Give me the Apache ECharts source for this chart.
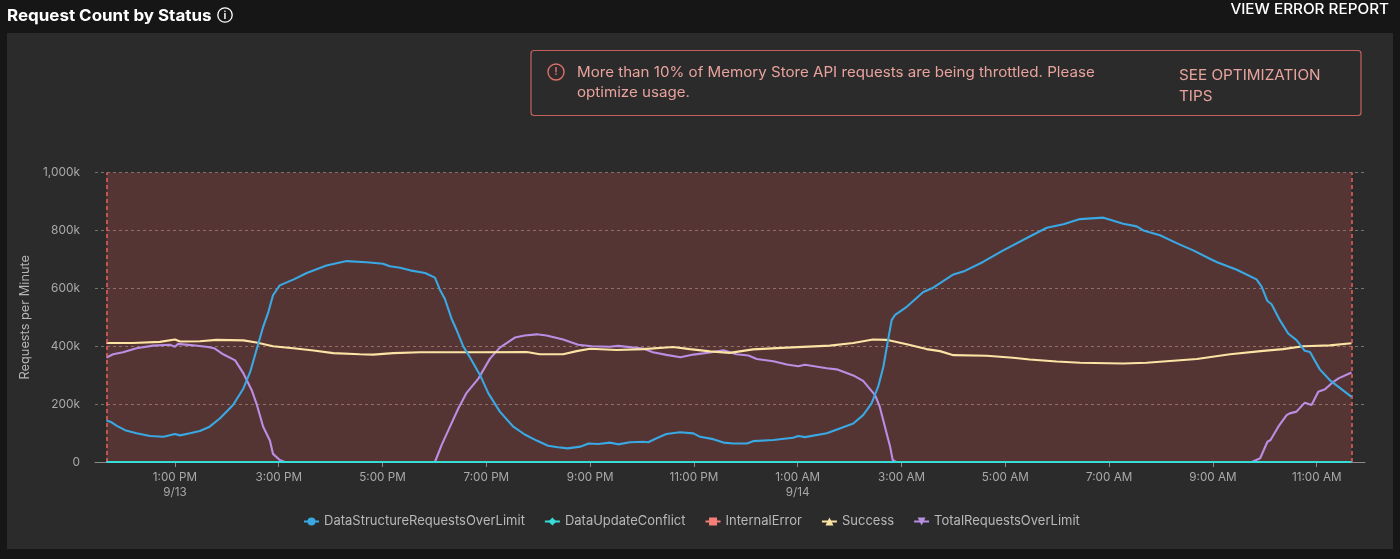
<!DOCTYPE html>
<html><head><meta charset="utf-8">
<style>html,body{margin:0;padding:0;background:#161616}#c{width:1400px;height:559px}</style>
<script src="https://cdn.jsdelivr.net/npm/echarts@6/dist/echarts.min.js"></script>
</head><body><div id="c"></div>
<script>
// x values are hours since midnight 9/13; y values are thousands of requests per minute
const seriesNames = ['DataStructureRequestsOverLimit','DataUpdateConflict','InternalError','Success','TotalRequestsOverLimit'];
const tickHours = [13,15,17,19,21,23,25,27,29,31,33,35];
const tickLabels = ['1:00 PM\n9/13','3:00 PM','5:00 PM','7:00 PM','9:00 PM','11:00 PM','1:00 AM\n9/14','3:00 AM','5:00 AM','7:00 AM','9:00 AM','11:00 AM'];
const yTicks = {0:'0',200:'200k',400:'400k',600:'600k',800:'800k',1000:'1,000k'};
const windowStart = 11.68, windowEnd = 35.67;
const dataStructure = [[11.68,143],[11.78,137],[11.88,125],[12.04,110],[12.26,99],[12.52,90],[12.78,87],[13.0,97],[13.1,92],[13.29,99],[13.48,107],[13.67,122],[13.87,151],[14.12,197],[14.32,254],[14.45,311],[14.57,386],[14.7,467],[14.8,518],[14.89,576],[15.02,610],[15.28,630],[15.54,653],[15.92,679],[16.31,694],[16.69,690],[17.01,685],[17.14,676],[17.34,671],[17.53,662],[17.82,653],[18.01,637],[18.11,593],[18.2,564],[18.33,495],[18.43,455],[18.56,398],[18.68,363],[18.88,300],[19.04,237],[19.26,174],[19.52,122],[19.74,95],[19.97,74],[20.19,56],[20.38,51],[20.57,47],[20.81,53],[20.97,64],[21.16,62],[21.38,67],[21.54,61],[21.77,68],[22.02,70],[22.12,68],[22.28,82],[22.47,97],[22.73,103],[22.99,99],[23.12,87],[23.37,79],[23.57,67],[23.76,64],[24.02,64],[24.14,72],[24.53,76],[24.91,84],[25.01,90],[25.14,86],[25.56,99],[25.81,116],[26.07,133],[26.26,162],[26.42,202],[26.55,260],[26.65,329],[26.74,421],[26.81,490],[26.87,507],[27.1,536],[27.42,587],[27.61,602],[28.0,648],[28.22,660],[28.57,691],[28.96,731],[29.47,779],[29.8,809],[30.12,821],[30.44,839],[30.89,844],[31.02,837],[31.27,823],[31.53,814],[31.66,800],[31.98,783],[32.3,756],[32.62,731],[32.94,702],[33.07,691],[33.46,664],[33.84,631],[33.94,605],[34.05,556],[34.13,545],[34.29,490],[34.45,444],[34.61,421],[34.77,384],[34.87,380],[35.06,320],[35.25,283],[35.67,225]];
const updateConflict = [[11.68,0],[35.67,0]];
const internalError = [[11.68,0],[35.67,0]];
const success = [[11.68,411],[12.19,411],[12.71,415],[13.0,423],[13.1,416],[13.48,417],[13.8,422],[14.32,420],[14.57,413],[14.89,400],[15.28,393],[15.67,385],[16.05,376],[16.56,372],[16.82,371],[17.21,376],[17.72,379],[18.17,379],[18.81,379],[19.78,380],[20.03,372],[20.48,372],[20.74,383],[21.0,391],[21.51,387],[22.02,390],[22.6,397],[22.92,390],[23.31,382],[23.69,377],[24.14,389],[24.79,395],[25.62,402],[26.07,411],[26.45,423],[26.71,422],[27.1,407],[27.48,390],[27.74,383],[28.0,369],[28.64,367],[29.15,360],[29.47,354],[29.99,347],[30.44,343],[31.27,340],[31.72,343],[32.17,349],[32.69,356],[33.33,372],[33.97,384],[34.35,390],[34.74,400],[35.25,403],[35.67,410]];
const totalOverLimit = [[11.68,361],[11.81,372],[12.0,379],[12.26,393],[12.58,402],[12.9,405],[13.0,398],[13.06,408],[13.35,403],[13.64,397],[13.77,392],[13.93,372],[14.16,351],[14.32,306],[14.48,248],[14.58,197],[14.7,122],[14.83,74],[14.89,28],[15.02,7],[15.12,0],[18.01,0],[18.14,59],[18.3,122],[18.46,185],[18.62,239],[18.85,289],[19.07,357],[19.26,395],[19.55,430],[19.74,437],[19.97,441],[20.16,437],[20.48,423],[20.77,405],[21.03,400],[21.38,398],[21.54,401],[22.02,392],[22.21,379],[22.47,370],[22.74,362],[22.99,371],[23.31,378],[23.57,386],[23.82,372],[24.05,368],[24.21,356],[24.53,348],[24.79,337],[25.01,331],[25.14,336],[25.56,324],[25.75,320],[26.07,299],[26.26,280],[26.49,231],[26.58,191],[26.68,122],[26.78,53],[26.83,7],[26.89,0],[33.75,0],[33.91,13],[34.05,70],[34.11,76],[34.26,122],[34.42,162],[34.48,168],[34.61,174],[34.77,205],[34.9,197],[35.03,243],[35.16,251],[35.32,277],[35.42,289],[35.67,309]];

const FONT = 'Inter, "Noto Sans", sans-serif';
const grey = '#a9a9a9';
const chart = echarts.init(document.getElementById('c'), null, {renderer:'canvas'});
function line(name, data, color, symbol, extra){
  return Object.assign({name, type:'line', data, symbol, symbolSize:9, showSymbol:false, clip:false,
    lineStyle:{color, width:2.1}, itemStyle:{color}, silent:true, animation:false}, extra||{});
}
const alertColor = '#e9a39d';
const txt = (x,y,text,sx)=>({type:'text',x,y,scaleX:sx,style:{text,fill:alertColor,font:'400 14px '+FONT,textVerticalAlign:'middle'}});
chart.setOption({
  animation:false,
  backgroundColor:'#161616',
  textStyle:{fontFamily:FONT},
  grid:{left:95,right:35,top:172.5,bottom:97,containLabel:false},
  xAxis:{type:'value',min:11.46,max:35.93,
    axisLine:{show:true,onZero:false,lineStyle:{color:'#8a8a8a',width:1}},
    axisTick:{show:true,length:5,customValues:tickHours,lineStyle:{color:'#8a8a8a'}},
    axisLabel:{customValues:tickHours,color:grey,fontSize:11.7,lineHeight:15,margin:8,fontFamily:FONT,hideOverlap:false,
      formatter:v=>tickLabels[tickHours.indexOf(v)]},
    splitLine:{show:false}},
  yAxis:{type:'value',min:0,max:1000,interval:200,name:'Requests per Minute',nameLocation:'middle',nameGap:60,
    nameTextStyle:{color:'#b5b5b5',fontSize:12.8,fontFamily:FONT},
    axisLine:{show:false},axisTick:{show:false},
    axisLabel:{color:grey,fontSize:11.9,margin:15,fontFamily:FONT,formatter:v=>yTicks[v]},
    splitLine:{show:true,lineStyle:{color:'#77736a',type:[3,3],width:1}}},
  legend:{data:seriesNames.map(n=>({name:n})),left:298,top:510,itemWidth:15,itemHeight:10,itemGap:19,
    textStyle:{color:'#b8b8b8',fontSize:13,fontFamily:FONT},selectedMode:false},
  series:[
    line(seriesNames[4], totalOverLimit, '#b88fe2', 'path://M0,0 L10,0 L5,10 Z',{z:3}),
    line(seriesNames[3], success, '#fbe3a4', 'triangle',{z:4}),
    line(seriesNames[0], dataStructure, '#3aa8e2', 'circle',{z:5,
      markArea:{silent:true,itemStyle:{color:'rgba(253,88,88,0.2)'},data:[[{xAxis:windowStart},{xAxis:windowEnd}]]},
      markLine:{silent:true,symbol:'none',label:{show:false},lineStyle:{color:'#e8615d',type:[4,3],width:1.5},
        data:[{xAxis:windowStart},{xAxis:windowEnd}]}}),
    line(seriesNames[2], internalError, '#f57f78', 'rect',{z:6}),
    line(seriesNames[1], updateConflict, '#35dcd8', 'diamond',{z:7})
  ],
  graphic:[
    {type:'rect',z:-10,shape:{x:7,y:33,width:1386,height:516},style:{fill:'#2b2b2b'}},
    {type:'text',x:7,y:16,scaleX:1.06,style:{text:'Request Count by Status',fill:'#fff',font:'700 16px '+FONT,textVerticalAlign:'middle'}},
    {type:'circle',shape:{cx:225,cy:15,r:7.2},style:{fill:'none',stroke:'#fff',lineWidth:1.3}},
    {type:'text',x:225,y:15.5,style:{text:'i',fill:'#fff',font:'600 11px '+FONT,textAlign:'center',textVerticalAlign:'middle'}},
    {type:'text',x:1389,y:10,scaleX:1.09,style:{text:'VIEW ERROR REPORT',fill:'#fff',font:'500 14px '+FONT,textAlign:'right',textVerticalAlign:'middle'}},
    {type:'rect',shape:{x:531,y:50.5,width:830,height:65,r:3},style:{fill:'none',stroke:'#c4615f',lineWidth:1.2}},
    {type:'circle',shape:{cx:556,cy:72,r:8},style:{fill:'none',stroke:'#dc6f69',lineWidth:1.4}},
    {type:'text',x:556,y:72,style:{text:'!',fill:'#dc6f69',font:'600 11px '+FONT,textAlign:'center',textVerticalAlign:'middle'}},
    txt(577,73,'More than 10% of Memory Store API requests are being throttled. Please',1.08),
    txt(577,93,'optimize usage.',1.08),
    txt(1179,76,'SEE OPTIMIZATION',1.09),
    txt(1179,97,'TIPS',1.09)
  ]
});
</script></body></html>
